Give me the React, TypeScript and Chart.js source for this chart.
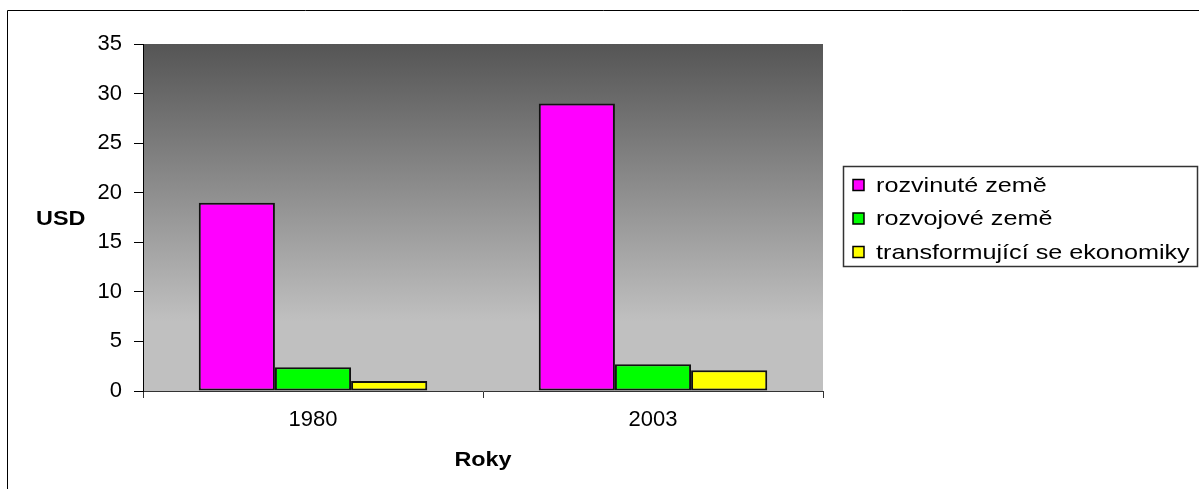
import React, { useEffect, useRef } from "react";
import { Chart, registerables } from "chart.js";

Chart.register(...registerables);

const categories = ["1980", "2003"];
const seriesNames = ["rozvinuté země", "rozvojové země", "transformující se ekonomiky"];
const developed = [19, 29];
const developing = [2.4, 2.7];
const transition = [1.0, 2.1];
const seriesColors = ["#ff00ff", "#00ff00", "#ffff00"];
const yMin = 0;
const yMax = 35;
const yStep = 5;
const yAxisTitle = "USD";
const xAxisTitle = "Roky";

const FONT = "'Liberation Sans', Arial, sans-serif";

function stretchedText(
  ctx: CanvasRenderingContext2D,
  text: string,
  x: number,
  y: number,
  align: CanvasTextAlign,
  sx: number
) {
  ctx.save();
  ctx.translate(x, y);
  ctx.scale(sx, 1);
  ctx.textAlign = align;
  ctx.textBaseline = "alphabetic";
  ctx.fillText(text, 0, 0);
  ctx.restore();
}

const decor = {
  id: "decor",
  beforeDraw(chart: any) {
    const { ctx, chartArea: a } = chart;
    ctx.save();
    const g = ctx.createLinearGradient(0, a.top, 0, a.top + (a.bottom - a.top) * 0.8);
    g.addColorStop(0, "#555555");
    g.addColorStop(1, "#c0c0c0");
    ctx.fillStyle = g;
    ctx.fillRect(a.left, a.top, a.right - a.left, a.bottom - a.top);
    ctx.strokeStyle = "#000";
    ctx.lineWidth = 1;
    ctx.beginPath();
    ctx.moveTo(7.5, chart.height + 5);
    ctx.lineTo(7.5, 10.5);
    ctx.lineTo(chart.width + 5, 10.5);
    ctx.stroke();
    ctx.restore();
  },
  afterDraw(chart: any) {
    const { ctx, chartArea: a } = chart;
    ctx.save();
    ctx.fillStyle = "#000";
    ctx.font = `bold 20px ${FONT}`;
    stretchedText(ctx, yAxisTitle, 36, 225, "left", 1.17);
    stretchedText(ctx, xAxisTitle, (a.left + a.right) / 2, 466, "center", 1.17);

    // legend
    ctx.strokeStyle = "#333";
    ctx.lineWidth = 1.5;
    ctx.strokeRect(843.5, 166.5, 354, 100);
    const rows = [185, 218.5, 252];
    ctx.font = `21px ${FONT}`;
    chart.data.datasets.forEach((ds: any, i: number) => {
      const cy = rows[i];
      ctx.fillStyle = ds.backgroundColor;
      ctx.fillRect(853, cy - 5.5, 11, 11);
      ctx.strokeStyle = "#000";
      ctx.lineWidth = 1.5;
      ctx.strokeRect(853, cy - 5.5, 11, 11);
      ctx.fillStyle = "#000";
      stretchedText(ctx, ds.label, 876, cy + 6.5, "left", 1.2);
    });
    ctx.restore();
  },
};

export default function App() {
  const ref = useRef<HTMLCanvasElement | null>(null);

  useEffect(() => {
    if (!ref.current) return;
    const values = [developed, developing, transition];
    const chart = new Chart(ref.current, {
      type: "bar",
      data: {
        labels: categories,
        datasets: seriesNames.map((name, i) => ({
          label: name,
          data: values[i],
          backgroundColor: seriesColors[i],
          borderColor: "#111",
          borderWidth: 2,
          borderSkipped: false,
          barPercentage: 1,
          categoryPercentage: 0.672,
        })),
      },
      options: {
        responsive: false,
        animation: false,
        devicePixelRatio: 1,
        layout: { padding: { top: 44, right: 376, bottom: 0, left: 0 } },
        plugins: {
          legend: { display: false },
          tooltip: { enabled: false },
        },
        scales: {
          x: {
            ticks: { color: "#000", padding: 9, font: { family: FONT, size: 22 } },
            grid: { drawOnChartArea: false, tickLength: 7, color: "#333", offset: true },
            border: { color: "#333", width: 1 },
            afterFit(s: any) {
              s.height = 98;
            },
          },
          y: {
            min: yMin,
            max: yMax,
            ticks: { stepSize: yStep, color: "#000", padding: 12, font: { family: FONT, size: 22 } },
            grid: { drawOnChartArea: false, tickLength: 9, color: "#000" },
            border: { color: "#000", width: 1 },
            afterFit(s: any) {
              s.width = 143;
            },
          },
        },
      },
      plugins: [decor],
    });
    return () => chart.destroy();
  }, []);

  return (
    <div style={{ position: "absolute", left: 0, top: 0, width: 1199, height: 489, background: "#fff" }}>
      <canvas ref={ref} width={1199} height={489} style={{ display: "block" }} />
    </div>
  );
}
